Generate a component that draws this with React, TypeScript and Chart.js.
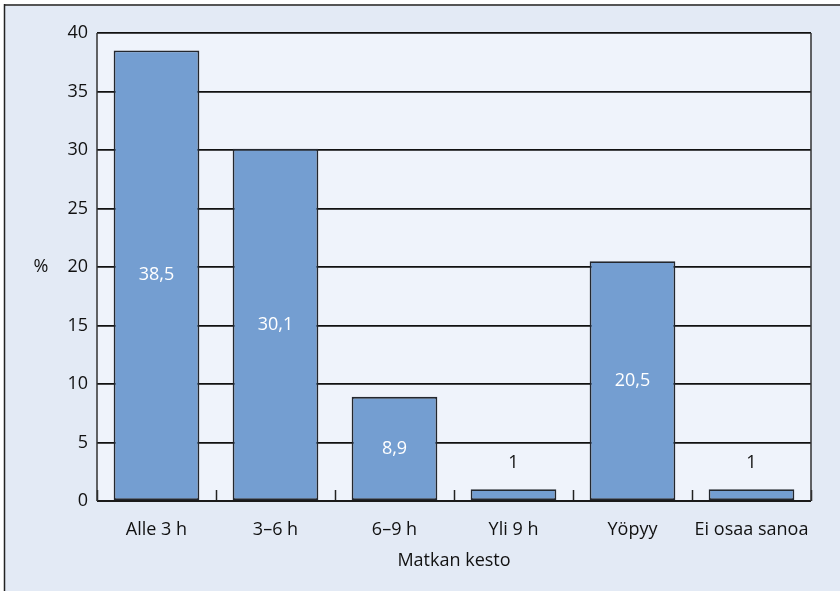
import React, { useEffect, useRef } from "react";
import { Chart, registerables } from "chart.js";

Chart.register(...registerables);

const categories = ["Alle 3 h", "3–6 h", "6–9 h", "Yli 9 h", "Yöpyy", "Ei osaa sanoa"];
const values = [38.5, 30.1, 8.9, 1, 20.5, 1];
const valueLabels = ["38,5", "30,1", "8,9", "1", "20,5", "1"];
const yTitle = "%";
const xTitle = "Matkan kesto";

const FONT = "'Open Sans', sans-serif";

const decorPlugin = {
  id: "decor",
  beforeDraw(chart: any) {
    const { ctx, width, height, chartArea } = chart;
    ctx.save();
    ctx.fillStyle = "#ffffff";
    ctx.fillRect(0, 0, width, height);
    ctx.fillStyle = "#e3eaf5";
    ctx.fillRect(4, 4, width - 4, height - 4);
    ctx.strokeStyle = "#555555";
    ctx.lineWidth = 2;
    ctx.beginPath();
    ctx.moveTo(4, 5);
    ctx.lineTo(width, 5);
    ctx.stroke();
    ctx.strokeStyle = "#222222";
    ctx.lineWidth = 1.5;
    ctx.beginPath();
    ctx.moveTo(4.5, 4);
    ctx.lineTo(4.5, height);
    ctx.stroke();
    ctx.fillStyle = "#eff3fb";
    ctx.fillRect(chartArea.left, chartArea.top, chartArea.right - chartArea.left, chartArea.bottom - chartArea.top);
    ctx.restore();
  },
  afterDraw(chart: any) {
    const { ctx, chartArea } = chart;
    const xs = chart.scales.x;
    const ys = chart.scales.y;
    ctx.save();
    // inner ticks between categories
    ctx.strokeStyle = "#222222";
    ctx.lineWidth = 1.5;
    const n = categories.length;
    const step = (chartArea.right - chartArea.left) / n;
    for (let i = 0; i <= n; i++) {
      const x = Math.round(xs.getPixelForValue(0) - step / 2 + i * step) + 0.5;
      ctx.beginPath();
      ctx.moveTo(x, chartArea.bottom);
      ctx.lineTo(x, chartArea.bottom - 11);
      ctx.stroke();
    }
    // axis lines
    ctx.lineWidth = 2;
    ctx.strokeStyle = "#1a1a1a";
    ctx.beginPath();
    ctx.moveTo(chartArea.left, chartArea.bottom);
    ctx.lineTo(chartArea.right, chartArea.bottom);
    ctx.stroke();
    ctx.lineWidth = 1.5;
    ctx.strokeStyle = "#333333";
    ctx.beginPath();
    ctx.moveTo(chartArea.right, chartArea.top);
    ctx.lineTo(chartArea.right, chartArea.bottom);
    ctx.moveTo(chartArea.left, chartArea.top);
    ctx.lineTo(chartArea.left, chartArea.bottom);
    ctx.stroke();
    // value labels
    const meta = chart.getDatasetMeta(0);
    ctx.font = `18px ${FONT}`;
    ctx.textAlign = "center";
    ctx.textBaseline = "middle";
    meta.data.forEach((bar: any, i: number) => {
      const v = values[i];
      if (v >= 5) {
        ctx.fillStyle = "#ffffff";
        ctx.fillText(valueLabels[i], bar.x, (bar.y + bar.base) / 2);
      } else {
        ctx.fillStyle = "#111111";
        ctx.fillText(valueLabels[i], bar.x, bar.y - 26);
      }
    });
    // titles
    ctx.fillStyle = "#111111";
    ctx.fillText(yTitle, 41, ys.getPixelForValue(20));
    ctx.fillText(xTitle, (chartArea.left + chartArea.right) / 2, 561);
    ctx.restore();
  },
};

export default function App() {
  const ref = useRef<HTMLCanvasElement>(null);
  useEffect(() => {
    document.body.style.margin = "0";
    const chart = new Chart(ref.current!, {
      type: "bar",
      data: {
        labels: categories,
        datasets: [
          {
            data: values,
            backgroundColor: "#749ed1",
            borderColor: "#23272e",
            borderWidth: 1.8,
            borderSkipped: false,
            barPercentage: 0.72,
            categoryPercentage: 1,
          },
        ],
      },
      options: {
        responsive: false,
        animation: false,
        layout: { padding: { top: 33, right: 29, left: 0, bottom: 0 } },
        plugins: { legend: { display: false }, tooltip: { enabled: false } },
        scales: {
          x: {
            grid: { display: false },
            border: { display: false },
            ticks: { color: "#111111", font: { family: FONT, size: 18 }, padding: 10, maxRotation: 0 },
            afterFit: (s: any) => { s.height = 90; },
          },
          y: {
            min: 0,
            max: 40,
            ticks: { stepSize: 5, color: "#111111", font: { family: FONT, size: 18 }, padding: 9 },
            grid: { color: "#111111", lineWidth: 1.8, drawTicks: false },
            border: { display: false },
            afterFit: (s: any) => { s.width = 97; },
          },
        },
      },
      plugins: [decorPlugin],
    });
    return () => chart.destroy();
  }, []);
  return (
    <div style={{ width: 840, height: 591 }}>
      <canvas ref={ref} width={840} height={591} style={{ display: "block" }} />
    </div>
  );
}
